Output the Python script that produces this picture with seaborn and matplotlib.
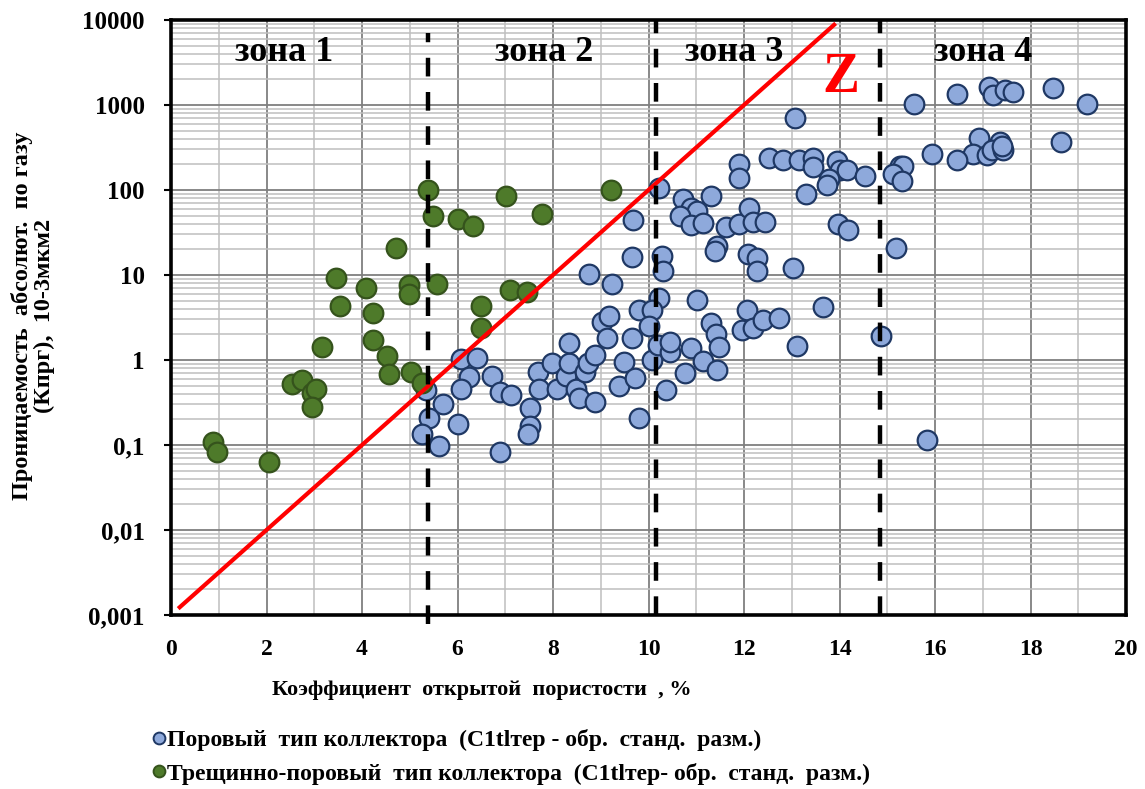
import numpy as np
import pandas as pd
import matplotlib
matplotlib.use("Agg")
import matplotlib.pyplot as plt
from matplotlib.ticker import MultipleLocator, FixedLocator, LogLocator, NullFormatter
from matplotlib.lines import Line2D
import seaborn as sns

# ---------------- data ----------------
poro_x = [6.07, 6.40, 6.25, 6.07, 6.72, 6.88, 5.35, 5.70, 5.41, 5.25, 5.62, 6.00, 6.90, 7.13,
          7.52, 7.52, 7.47, 7.68, 7.71, 7.97, 8.08, 8.27, 8.34, 8.34, 8.48, 8.55, 8.67, 8.74,
          8.89, 8.89, 9.02, 9.18, 9.14, 8.76, 9.23, 9.65, 9.68, 10.23, 10.28, 10.31, 10.23,
          9.81, 10.07, 10.02, 9.65, 9.49, 9.39, 9.72, 9.81, 10.07, 10.19, 10.45, 10.46, 10.36,
          13.07, 11.90, 11.90, 12.53, 12.82, 13.16, 13.45, 13.45, 13.94, 14.00, 14.15, 13.77,
          13.73, 14.54, 13.29, 10.73, 11.31, 10.90, 11.02, 10.65, 10.90, 11.15, 11.62, 11.90,
          12.11, 12.18, 12.45, 11.43, 11.39, 12.09, 12.28, 12.28, 13.03, 13.96, 14.17, 11.02,
          11.31, 11.41, 11.48, 12.07, 11.95, 12.18, 12.40, 12.74, 13.66, 13.10, 14.86, 10.90,
          11.15, 11.44, 10.76,
          15.55, 16.47, 17.14, 17.22, 17.47, 17.64, 18.48, 19.19, 18.63, 16.93, 17.36, 16.80,
          17.08, 17.19, 17.42, 17.40, 16.47, 15.93, 15.27, 15.34, 15.11, 15.30, 15.18, 15.84]
poro_y = [1.02, 1.05, 0.63, 0.46, 0.64, 0.42, 0.44, 0.30, 0.206, 0.134, 0.097, 0.177, 0.082, 0.39,
          0.27, 0.167, 0.134, 0.72, 0.46, 0.91, 0.46, 0.65, 0.93, 1.6, 0.46, 0.354, 0.73, 0.91,
          1.15, 0.32, 2.8, 3.3, 1.83, 10.2, 7.8, 16.1, 44, 105, 16.7, 11, 5.3,
          3.9, 3.9, 2.5, 1.83, 0.94, 0.49, 0.61, 0.206, 1.0, 1.5, 1.25, 1.64, 0.44,
          697, 202, 137, 236, 225, 225, 236, 185, 221, 172, 172, 134,
          115, 146, 90, 78, 85, 62, 56, 49, 39, 41, 37, 40,
          61, 42, 42, 22, 19.3, 17.7, 16, 11.1, 12, 40, 34, 5.1,
          2.7, 2.0, 1.44, 3.9, 2.25, 2.4, 2.96, 3.1, 4.2, 1.46, 1.9, 1.37,
          0.98, 0.76, 0.71,
          1020, 1340, 1615, 1310, 1500, 1410, 1570, 1020, 364, 405, 371, 263,
          258, 296, 296, 330, 225, 263, 191, 191, 153, 129, 20.6, 0.115]

fract_x = [5.38, 5.49, 6.00, 6.33, 4.71, 3.45, 4.08, 4.99, 4.99, 5.58, 3.53, 4.24, 6.49, 6.49,
           3.16, 4.24, 4.53, 4.57, 5.03, 5.25, 2.53, 2.74, 2.95, 3.03, 2.95, 0.89, 0.97, 2.06,
           7.01, 7.76, 9.21, 7.10, 7.45]
fract_y = [100, 49.5, 46, 37.7, 20.6, 9.1, 7.0, 7.6, 5.9, 7.8, 4.3, 3.6, 4.3, 2.36,
           1.44, 1.7, 1.11, 0.68, 0.72, 0.53, 0.52, 0.58, 0.41, 0.46, 0.28, 0.109, 0.082, 0.0625,
           85, 52, 100, 6.7, 6.3]

series_labels = ["Поровый  тип коллектора  (C1tlтер - обр.  станд.  разм.)",
                 "Трещинно-поровый  тип коллектора  (C1tlтер- обр.  станд.  разм.)"]
zone_names = ["зона 1", "зона 2", "зона 3", "зона 4"]
zone_label_x = [2.37, 7.81, 11.8, 17.0]
zone_bounds = [5.38, 10.15, 14.85]
z_line_x = [0.15, 13.92]          # extent of the Z boundary line, log10(K) = -3 + Kp/2
y_ticks = [0.001, 0.01, 0.1, 1, 10, 100, 1000, 10000]
y_tick_labels = ["0,001", "0,01", "0,1", "1", "10", "100", "1000", "10000"]
x_ticks = [0, 2, 4, 6, 8, 10, 12, 14, 16, 18, 20]

df_p = pd.DataFrame({"x": poro_x, "y": poro_y})
df_f = pd.DataFrame({"x": fract_x, "y": fract_y})

# ---------------- style ----------------
sns.set_theme(style="white")
serif = ["Liberation Serif", "DejaVu Serif"]
plt.rcParams["font.family"] = serif
plt.rcParams["font.weight"] = "bold"
plt.rcParams["text.color"] = "black"
plt.rcParams["xtick.color"] = "black"
plt.rcParams["ytick.color"] = "black"
plt.rcParams["axes.labelcolor"] = "black"

blue_face, blue_edge = "#8EA9DB", "#1F3864"
green_face, green_edge = "#4E7A2A", "#35531C"

fig = plt.figure(figsize=(11.45, 7.89), dpi=100)
ax = fig.add_axes([171 / 1145, 1 - 615 / 789, (1126 - 171) / 1145, (615 - 20) / 789])

ax.set_yscale("log")
ax.set_xlim(0, 20)
ax.set_ylim(0.001, 10000)

# grid
ax.xaxis.set_major_locator(FixedLocator(x_ticks))
ax.xaxis.set_minor_locator(MultipleLocator(1))
ax.yaxis.set_major_locator(FixedLocator(y_ticks))
ax.yaxis.set_minor_locator(LogLocator(base=10, subs=np.arange(2, 10)))
ax.yaxis.set_minor_formatter(NullFormatter())
ax.grid(which="major", color="#7F7F7F", lw=1.3, zorder=0)
ax.grid(which="minor", color="#BFBFBF", lw=1.1, zorder=0)
ax.set_axisbelow(True)

ax.set_xticklabels([str(t) for t in x_ticks], fontsize=17, fontweight="bold", color="black")
ax.set_yticklabels(y_tick_labels, fontsize=18, fontweight="bold", color="black")
ax.tick_params(axis="x", which="both", length=0, pad=17)
ax.tick_params(axis="y", which="major", length=5, width=1.5, color="black", direction="out", pad=14, left=True)
ax.tick_params(axis="y", which="minor", length=0)
for s in ax.spines.values():
    s.set_color("black")
    s.set_linewidth(2.6)

# scatter
sns.scatterplot(data=df_p, x="x", y="y", ax=ax, s=200, color=blue_face, edgecolor=blue_edge,
                linewidth=1.6, zorder=3, legend=False)
sns.scatterplot(data=df_f, x="x", y="y", ax=ax, s=200, color=green_face, edgecolor=green_edge,
                linewidth=1.6, zorder=4, legend=False)

# Z line
zx = np.array(z_line_x)
ax.plot(zx, 10 ** (-3 + zx / 2), color="red", lw=3.0, zorder=5, solid_capstyle="butt")

# zone boundaries
for i, xb in enumerate(zone_bounds):
    ax.plot([xb, xb], [0.00078 if i == 0 else 0.001, 7000 if i == 0 else 10000], color="black",
            lw=3.2, dashes=(4.2, 3.5), zorder=6, clip_on=(i != 0))

# labels
for name, zxl in zip(zone_names, zone_label_x):
    ax.text(zxl, 4100, name, fontsize=26, fontweight="bold", ha="center", va="center", zorder=7,
            color="black")
ax.text(14.02, 2100, "Z", fontsize=40, fontweight="bold", color="red", ha="center", va="center", zorder=7)

ax.set_xlabel("")
ax.set_ylabel("")
fig.text(482 / 1145, 1 - 690 / 789, "Коэффициент  открытой  пористости  , %", fontsize=16,
         fontweight="bold", ha="center", va="center", color="black")
fig.text(33 / 1145, 1 - 316 / 789, "Проницаемость  абсолют.  по газу\n(Кпрг),  10-3мкм2", fontsize=17.5,
         fontweight="bold", ha="center", va="center", rotation=90, multialignment="center",
         linespacing=1.1, color="black")

handles = [Line2D([], [], marker="o", ls="", markersize=8.5, markerfacecolor=blue_face,
                  markeredgecolor=blue_edge, markeredgewidth=1.4),
           Line2D([], [], marker="o", ls="", markersize=8.5, markerfacecolor=green_face,
                  markeredgecolor=green_edge, markeredgewidth=1.4)]
fig.legend(handles, series_labels, loc="upper left", bbox_to_anchor=(140 / 1145, 1 - 717 / 789),
           frameon=False, handlelength=0.6, handletextpad=0.05, labelspacing=0.5,
           borderpad=0, prop={"family": serif, "weight": "bold", "size": 17},
           labelcolor="black")

fig.savefig("out.png", dpi=100)
